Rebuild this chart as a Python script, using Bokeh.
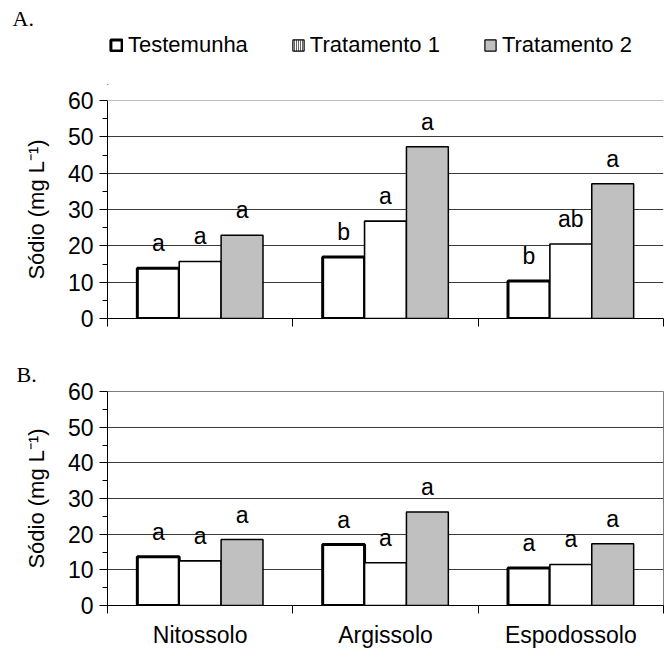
from bokeh.plotting import figure
from bokeh.models import (ColumnDataSource, Range1d, FixedTicker, Legend, LegendItem,
                          Span, Title)
from bokeh.layouts import column
from bokeh.transform import dodge
from bokeh.core.properties import value
from bokeh.embed import file_html
from bokeh.resources import INLINE

# ---------------- data ----------------
categories = ["Nitossolo", "Argissolo", "Espodossolo"]
series_names = ["Testemunha", "Tratamento 1", "Tratamento 2"]

A_testemunha = [13.8, 16.9, 10.3]
A_trat1 = [15.7, 26.8, 20.5]
A_trat2 = [22.9, 47.3, 37.1]
A_letters_testemunha = ["a", "b", "b"]
A_letters_trat1 = ["a", "a", "ab"]
A_letters_trat2 = ["a", "a", "a"]

B_testemunha = [13.7, 17.1, 10.5]
B_trat1 = [12.5, 12.0, 11.5]
B_trat2 = [18.5, 26.2, 17.3]
B_letters_testemunha = ["a", "a", "a"]
B_letters_trat1 = ["a", "a", "a"]
B_letters_trat2 = ["a", "a", "a"]

y_ticks = [0, 10, 20, 30, 40, 50, 60]
y_minor_ticks = [5, 15, 25, 35, 45, 55]
y_label = "Sódio (mg L⁻¹)"
panel_labels = ["A.", "B."]

# ---------------- style ----------------
FONT = "Liberation Sans"
SERIF = "Liberation Serif"
W = 664
LEFT = 107
BAR_W = 0.226
OFFSETS = [-BAR_W, 0.0, BAR_W]
STYLES = [
    dict(fill_color="white", line_color="black", line_width=3),
    dict(fill_color="white", line_color="black", line_width=1.6),
    dict(fill_color="#c0c0c0", line_color="black", line_width=1.5),
]

xc = [i + 0.5 for i in range(len(categories))]


def panel_title(text, page_x, standoff):
    return Title(text=text, align="left", offset=page_x - LEFT, standoff=standoff,
                 text_font=SERIF, text_font_size="22px", text_font_style="normal",
                 text_color="black")


def make_panel(vals_list, letters_list, height, border_top, border_bottom, show_labels, outline):
    p = figure(width=W, height=height, output_backend="svg", toolbar_location=None,
               x_range=Range1d(0, len(categories)), y_range=Range1d(0, 60),
               min_border_left=LEFT, min_border_right=1,
               min_border_top=border_top, min_border_bottom=border_bottom,
               background_fill_color="white", border_fill_color="white")
    p.title = None
    p.outline_line_color = "#7f7f7f" if outline else None

    # grid
    p.xgrid.visible = False
    p.ygrid.ticker = FixedTicker(ticks=y_ticks[1:-1])
    p.ygrid.grid_line_color = "#3a3a3a"
    p.ygrid.grid_line_width = 1
    p.add_layout(Span(location=y_ticks[-1], dimension="width", line_color="#7f7f7f", line_width=1.2))

    # y axis
    yax = p.yaxis[0]
    yax.ticker = FixedTicker(ticks=y_ticks, minor_ticks=y_minor_ticks)
    yax.axis_label = y_label
    yax.axis_label_text_font = FONT
    yax.axis_label_text_font_size = "22px"
    yax.axis_label_text_font_style = "normal"
    yax.axis_label_text_color = "black"
    yax.axis_label_standoff = 16
    yax.major_label_text_font = FONT
    yax.major_label_text_font_size = "23px"
    yax.major_label_text_color = "black"
    yax.major_label_standoff = 6
    yax.major_tick_out = 8
    yax.major_tick_in = 0
    yax.minor_tick_out = 5
    yax.minor_tick_in = 0
    yax.axis_line_color = "black"
    yax.major_tick_line_color = "black"
    yax.minor_tick_line_color = "black"

    # x axis: ticks on the category boundaries
    xax = p.xaxis[0]
    xax.axis_line_color = "black"
    xax.minor_tick_out = 8
    xax.minor_tick_in = 0
    xax.minor_tick_line_color = "black"
    xax.major_tick_line_color = None
    xax.major_tick_out = 0
    xax.major_tick_in = 0
    boundaries = list(range(len(categories) + 1))
    if show_labels:
        xax.ticker = FixedTicker(ticks=xc, minor_ticks=boundaries)
        xax.major_label_overrides = {x: c for x, c in zip(xc, categories)}
        xax.major_label_text_font = FONT
        xax.major_label_text_font_size = "23px"
        xax.major_label_text_color = "black"
        xax.major_label_standoff = 8
    else:
        xax.ticker = FixedTicker(ticks=[], minor_ticks=boundaries)

    # bars and letters
    for vals, letters, off, st in zip(vals_list, letters_list, OFFSETS, STYLES):
        src = ColumnDataSource(dict(x=xc, top=vals, lbl=letters))
        p.vbar(x=dodge("x", off, range=p.x_range), top="top", width=BAR_W, bottom=0,
               source=src, **st)
        p.text(x=dodge("x", off, range=p.x_range), y="top", text="lbl", source=src,
               text_align="center", text_baseline="alphabetic", y_offset=-25,
               text_font=value(FONT), text_font_size="23px", text_color="black")
    return p


# header A: panel label (title) + legend
hA = figure(width=W, height=85, output_backend="svg", toolbar_location=None,
            x_range=Range1d(0, 1), y_range=Range1d(0, 1),
            x_axis_type=None, y_axis_type=None,
            min_border_left=LEFT, min_border_right=1, min_border_top=0, min_border_bottom=0,
            background_fill_color="white", border_fill_color="white")
hA.title = panel_title(panel_labels[0], 12, 6)
hA.outline_line_color = None
hA.grid.visible = False

leg_styles = [
    dict(fill_color="white", line_color="black", line_width=3),
    dict(fill_color="white", line_color="black", line_width=1.2, hatch_pattern="vertical_line",
         hatch_color="black", hatch_scale=2.0, hatch_weight=1.2),
    dict(fill_color="#c0c0c0", line_color="black", line_width=1.2),
]
items = []
for name, st in zip(series_names, leg_styles):
    # legend-only renderers, placed outside the visible range
    r = hA.vbar(x=[-5], top=[-5], bottom=[-6], width=0.1, **st)
    items.append(LegendItem(label=name, renderers=[r]))
legend = Legend(items=items, orientation="horizontal", location=(2, 27),
                padding=0, margin=0, spacing=43, label_standoff=5,
                glyph_width=14, glyph_height=14,
                label_text_font=FONT, label_text_font_size="22px", label_text_color="black",
                border_line_color=None, background_fill_alpha=0)
hA.add_layout(legend, "center")

pA = make_panel([A_testemunha, A_trat1, A_trat2],
                [A_letters_testemunha, A_letters_trat1, A_letters_trat2],
                height=268, border_top=15, border_bottom=35, show_labels=False, outline=False)

pB = make_panel([B_testemunha, B_trat1, B_trat2],
                [B_letters_testemunha, B_letters_trat1, B_letters_trat2],
                height=297, border_top=38, border_bottom=40, show_labels=True, outline=True)
pB.title = panel_title(panel_labels[1], 16, 9)

layout = column(hA, pA, pB, spacing=0)
open("out.html", "w").write(file_html(layout, INLINE))
